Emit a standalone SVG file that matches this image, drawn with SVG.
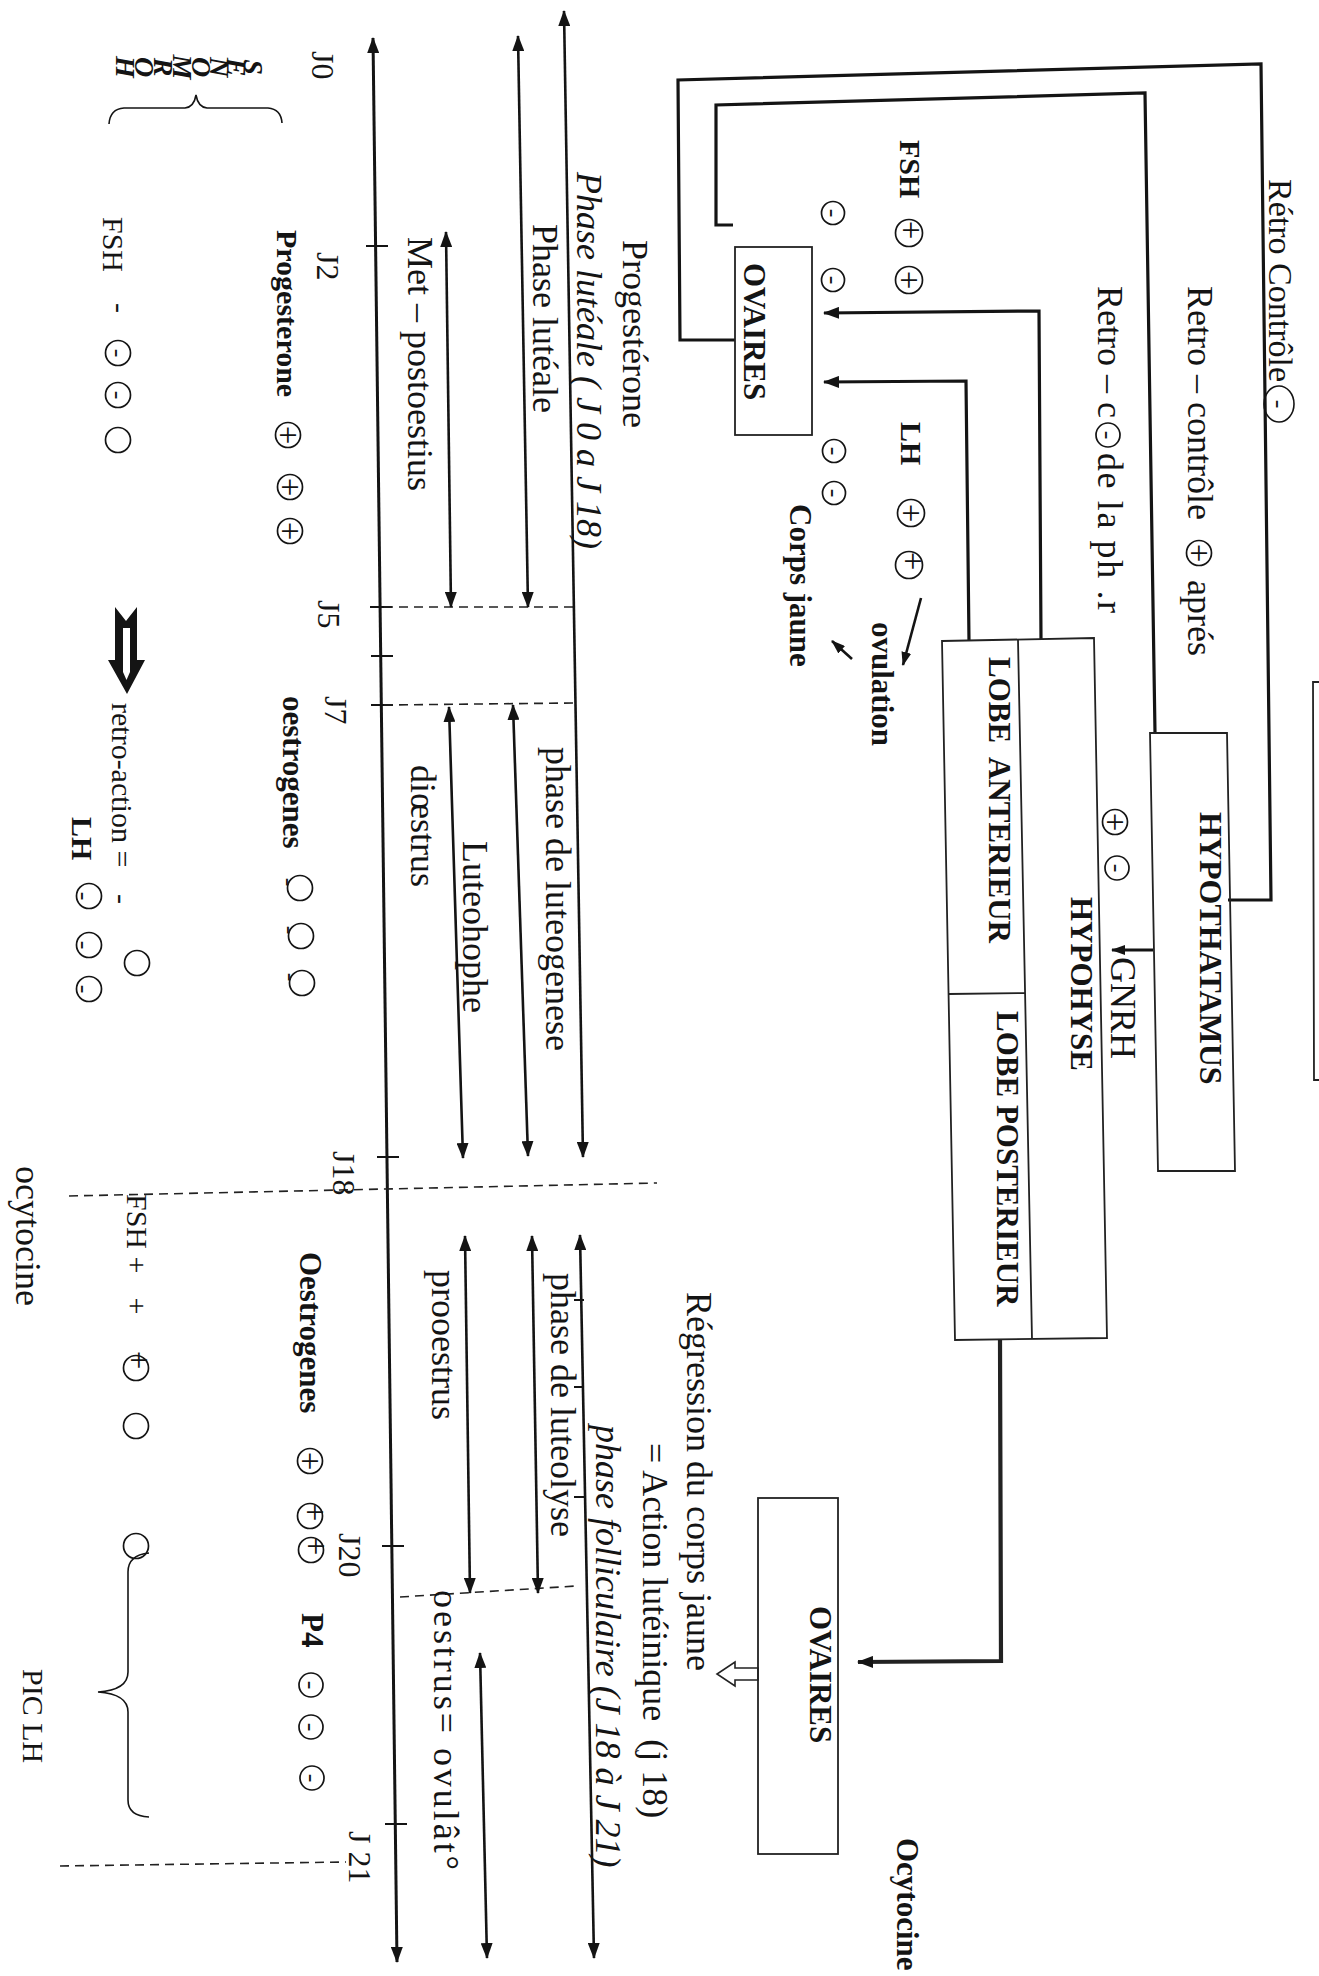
<svg xmlns="http://www.w3.org/2000/svg" width="1319" height="1976" viewBox="0 0 1319 1976">
<defs>
<style>
.t{font-family:"Liberation Serif","Times New Roman",serif;font-size:36px;fill:#141414}
.b{font-weight:bold}
.i{font-style:italic}
.s28{font-size:28px}
.s30{font-size:30px}
.s31{font-size:31px}
.s32{font-size:32px}
.s34{font-size:34px}
.mid{text-anchor:middle}
.sg{font-family:"Liberation Serif","Times New Roman",serif;font-size:26px;fill:#141414;text-anchor:middle;dominant-baseline:central}
.pl{font-size:33px}
.cir{fill:none;stroke:#141414;stroke-width:1.7}
.ln{stroke:#141414;stroke-width:3.2;fill:none}
.thick{stroke:#222;stroke-width:4.2;fill:none}
.ar{stroke:#141414;stroke-width:2.6;fill:none}
.box{fill:none;stroke:#222;stroke-width:1.8}
.dash{stroke:#222;stroke-width:1.6;stroke-dasharray:9 6;fill:none}
.tick{stroke:#141414;stroke-width:2;fill:none}
</style>
<marker id="ah" viewBox="0 0 16 12" refX="15" refY="6" markerWidth="16" markerHeight="12" markerUnits="userSpaceOnUse" orient="auto-start-reverse"><path d="M0,0 L16,6 L0,12 z" fill="#141414"/></marker>
<marker id="ahs" viewBox="0 0 14 10" refX="13" refY="5" markerWidth="14" markerHeight="10" markerUnits="userSpaceOnUse" orient="auto-start-reverse"><path d="M0,0 L14,5 L0,10 z" fill="#141414"/></marker>
</defs>
<rect x="0" y="0" width="1319" height="1976" fill="#fff"/>

<!-- connectors -->
<g id="connectors">
  <path class="ln" d="M1228,900 L1271,900 L1261,64 L678,80 L680,340 L735,340"/>
  <path class="ln" d="M1155,733 L1145,93 L716,105 L716,225 L733,225"/>
  <path class="ln" d="M1041,640 L1039,311 L824,313" marker-end="url(#ah)"/>
  <path class="ln" d="M969,641 L966,381 L824,382" marker-end="url(#ah)"/>
  <path class="ln" d="M1153,950 L1112,950" marker-end="url(#ahs)"/>
  <path class="thick" d="M1000,1340 L1001,1661 L858,1662" marker-end="url(#ah)"/>
  <path class="ar" d="M921,598 L903,665" marker-end="url(#ahs)"/>
  <path class="ar" d="M852,659 L832,641" marker-end="url(#ahs)"/>
  <polygon points="758,1668 735,1668 735,1662 717,1674 735,1686 735,1680 758,1680" fill="#fff" stroke="#222" stroke-width="1.6"/>
</g>

<!-- nodes -->
<g id="hypothalamus">
  <polygon class="box" points="1150,733 1227,733 1235,1171 1158,1171"/>
  <text class="t b s32" transform="translate(1200,812) rotate(90)">HYPOTHATAMUS</text>
</g>
<g id="hypophyse">
  <polygon class="box" points="942,641 1094,638 1107,1338 955,1340"/>
  <path class="box" d="M1018,640 L1032,1339 M949,994 L1025,993"/>
  <text class="t b s31" transform="translate(1071,897) rotate(90)">HYPOHYSE</text>
  <text class="t b s31" transform="translate(989,657) rotate(90)">LOBE&#160; ANTERIEUR</text>
  <text class="t b s31" transform="translate(997,1011) rotate(90)">LOBE POSTERIEUR</text>
  <g transform="translate(1115,822)"><circle class="cir" r="12.5"/><text class="sg pl" transform="rotate(90)">+</text></g>
  <g transform="translate(1117,868)"><circle class="cir" r="12"/><text class="sg" transform="rotate(90)">-</text></g>
  <text class="t" transform="translate(1111,957) rotate(90)">GNRH</text>
</g>
<g id="ovaires-1">
  <rect class="box" x="735" y="247" width="77" height="188"/>
  <text class="t b s31" transform="translate(744,263) rotate(90)">OVAIRES</text>
</g>
<g id="ovaires-2">
  <rect class="box" x="758" y="1498" width="80" height="356"/>
  <text class="t b s31" transform="translate(810,1606) rotate(90)">OVAIRES</text>
</g>
<g id="edge-box">
  <path class="box" d="M1340,682 L1313,682 L1314,1080 L1340,1080"/>
</g>

<!-- feedback labels -->
<g id="labels-top">
  <text class="t s34" transform="translate(1269,179) rotate(90)">Rétro Contrôle</text>
  <ellipse cx="1279" cy="404" rx="15" ry="18" fill="none" stroke="#141414" stroke-width="1.6"/>
  <text class="sg" transform="translate(1279,404) rotate(90)">-</text>
  <text class="t" transform="translate(1188,286) rotate(90)">Retro – contrôle</text>
  <g transform="translate(1199,553)"><circle class="cir" r="12.5"/><text class="sg pl" transform="rotate(90)">+</text></g>
  <text class="t" transform="translate(1188,580) rotate(90)">aprés</text>
  <text class="t" transform="translate(1098,286) rotate(90)">Retro – c</text>
  <g transform="translate(1108,435)"><circle class="cir" r="12"/><text class="sg" transform="rotate(90)">-</text></g>
  <text class="t" transform="translate(1098,453) rotate(90)" textLength="160" lengthAdjust="spacing">de la ph .r</text>
  <text class="t b s30" transform="translate(900,140) rotate(90)">FSH</text>
  <g transform="translate(909,233)"><circle class="cir" r="13.5"/><text class="sg pl" transform="translate(2,-3) rotate(90)">+</text></g>
  <g transform="translate(909,280)"><circle class="cir" r="13.5"/><text class="sg pl" transform="rotate(90)">+</text></g>
  <g transform="translate(833,213)"><circle class="cir" r="11.5"/><text class="sg" transform="rotate(90)">-</text></g>
  <g transform="translate(833,280)"><circle class="cir" r="11.5"/><text class="sg" transform="rotate(90)">-</text></g>
  <text class="t b s30" transform="translate(901,422) rotate(90)">LH</text>
  <g transform="translate(911,513)"><circle class="cir" r="13.5"/><text class="sg pl" transform="rotate(90)">+</text></g>
  <g transform="translate(909,565)"><circle class="cir" r="13.5"/><text class="sg pl" transform="translate(4,-4) rotate(90)">+</text></g>
  <g transform="translate(834,451)"><circle class="cir" r="11.5"/><text class="sg" transform="rotate(90)">-</text></g>
  <g transform="translate(834,493)"><circle class="cir" r="11.5"/><text class="sg" transform="rotate(90)">-</text></g>
  <text class="t b s31" transform="translate(790,504) rotate(90)">Corps jaune</text>
  <text class="t b s31" transform="translate(872,622) rotate(90)">ovulation</text>
  <text class="t b s31" transform="translate(897,1838) rotate(90)">Ocytocine</text>
  <text class="t" transform="translate(687,1292) rotate(90)">Régression du corps jaune</text>
  <text class="t" transform="translate(643,1443) rotate(90)">= Action lutéinique&#160; (j 18)</text>
  <text class="t i" transform="translate(596,1425) rotate(90)">phase folliculaire (J 18 à J 21)</text>
</g>

<!-- timeline -->
<g id="timeline">
  <path class="ar" style="stroke-width:3" d="M373,38 L397,1962" marker-start="url(#ah)" marker-end="url(#ah)"/>
  <path class="tick" d="M366,246 L388,246 M370,607 L392,607 M371,656 L393,656 M371,705 L393,705 M377,1157 L399,1157 M382,1546 L404,1546 M385,1824 L407,1824"/>
  <path class="dash" d="M384,607 L574,607 M384,705 L574,703 M69,1196 L657,1183 M400,1597 L576,1586 M60,1866 L346,1862"/>
  <path class="ar" d="M446,232 L451,607" marker-start="url(#ah)" marker-end="url(#ah)"/>
  <path class="ar" d="M518,36 L528,607" marker-start="url(#ah)" marker-end="url(#ah)"/>
  <path class="ar" d="M564,11 L583,1157" marker-start="url(#ah)" marker-end="url(#ah)"/>
  <path class="ar" d="M449,707 L463,1158" marker-start="url(#ah)" marker-end="url(#ah)"/>
  <path class="ar" d="M513,705 L528,1156" marker-start="url(#ah)" marker-end="url(#ah)"/>
  <path class="ar" d="M465,1236 L470,1593" marker-start="url(#ah)" marker-end="url(#ah)"/>
  <path class="ar" d="M532,1236 L538,1593" marker-start="url(#ah)" marker-end="url(#ah)"/>
  <path class="ar" d="M580,1235 L594,1958" marker-start="url(#ah)" marker-end="url(#ah)"/>
  <path class="ar" d="M480,1653 L487,1958" marker-start="url(#ah)" marker-end="url(#ah)"/>
  <path class="tick" d="M574,1300 L584,1300 M574,1387 L584,1387 M574,1497 L584,1497"/>

  <text class="t s32" transform="translate(312,51) rotate(90)">J0</text>
  <text class="t s32" transform="translate(317,252) rotate(90)">J2</text>
  <text class="t s32" transform="translate(318,600) rotate(90)">J5</text>
  <text class="t s32" transform="translate(325,696) rotate(90)">J7</text>
  <text class="t s32" transform="translate(333,1151) rotate(90)">J18</text>
  <text class="t s32" transform="translate(339,1533) rotate(90)">J20</text>
  <text class="t s32" transform="translate(349,1831) rotate(90)">J 21</text>

  <text class="t" transform="translate(408,237) rotate(90)">Met – postoestius</text>
  <text class="t" transform="translate(533,224) rotate(90)">Phase lutéale</text>
  <text class="t i" transform="translate(577,172) rotate(90)">Phase lutéale ( J 0 a J 18)</text>
  <text class="t" transform="translate(623,240) rotate(90)">Progestérone</text>
  <text class="t" transform="translate(411,765) rotate(90)">diœstrus</text>
  <text class="t" transform="translate(463,841) rotate(90)">Luteohophe</text>
  <text class="t" transform="translate(546,747) rotate(90)">phase de luteogenese</text>
  <text class="t" transform="translate(432,1270) rotate(90)">prooestrus</text>
  <text class="t" transform="translate(551,1273) rotate(90)">phase de luteolyse</text>
  <text class="t" transform="translate(434,1590) rotate(90)" textLength="280" lengthAdjust="spacing">oestrus= ovulât°</text>
</g>

<!-- hormones column -->
<g id="hormones">
  <text class="t b i s28 mid" transform="translate(116,67) rotate(90)">H</text>
  <text class="t b i s28 mid" transform="translate(135,67) rotate(90)">O</text>
  <text class="t b i s28 mid" transform="translate(154,67) rotate(90)">R</text>
  <text class="t b i s28 mid" transform="translate(173,67) rotate(90)">M</text>
  <text class="t b i s28 mid" transform="translate(192,67) rotate(90)">O</text>
  <text class="t b i s28 mid" transform="translate(210,67) rotate(90)">N</text>
  <text class="t b i s28 mid" transform="translate(227,67) rotate(90)">E</text>
  <text class="t b i s28 mid" transform="translate(244,67) rotate(90)">S</text>
  <path d="M109,124 Q110,109 124,108 L185,108 Q194,107 196,95 Q198,107 207,108 L268,108 Q281,109 282,123" fill="none" stroke="#141414" stroke-width="1.6"/>

  <text class="t s30" transform="translate(103,217) rotate(90)">FSH</text>
  <text class="t s30 mid" transform="translate(110,308) rotate(90)">-</text>
  <g transform="translate(118,353)"><circle class="cir" r="12.5"/><text class="sg" transform="rotate(90)">-</text></g>
  <g transform="translate(118,395)"><circle class="cir" r="12.5"/><text class="sg" transform="rotate(90)">-</text></g>
  <circle class="cir" cx="118" cy="440" r="12.5"/>

  <text class="t b s30" transform="translate(277,230) rotate(90)">Progesterone</text>
  <g transform="translate(288,435)"><circle class="cir" r="12.5"/><text class="sg pl" transform="rotate(90)">+</text></g>
  <g transform="translate(290,487)"><circle class="cir" r="12.5"/><text class="sg pl" transform="rotate(90)">+</text></g>
  <g transform="translate(290,531)"><circle class="cir" r="12.5"/><text class="sg pl" transform="rotate(90)">+</text></g>

  <polygon points="115,607 126,621 137,607 137,660 145,660 127,694 108,660 115,660" fill="#141414"/>
  <polygon points="123,628 130,628 130,672 126.5,680 123,672" fill="#fff"/>

  <text class="t b s31" transform="translate(283,696) rotate(90)">oestrogenes</text>
  <g transform="translate(300,888)"><circle class="cir" r="12.5"/><text class="sg" transform="translate(-11,-6) rotate(90)">-</text></g>
  <g transform="translate(301,936)"><circle class="cir" r="12.5"/><text class="sg" transform="translate(-11,-6) rotate(90)">-</text></g>
  <g transform="translate(302,983)"><circle class="cir" r="12.5"/><text class="sg" transform="translate(-11,-6) rotate(90)">-</text></g>

  <text class="t s30" transform="translate(112,703) rotate(90)">retro-action =</text>
  <text class="t s30 mid" transform="translate(112,899) rotate(90)">-</text>
  <text class="t b s30" transform="translate(72,817) rotate(90)">LH</text>
  <g transform="translate(89,896)"><circle class="cir" r="12.5"/><text class="sg" transform="translate(-5,0) rotate(90)">-</text></g>
  <g transform="translate(89,945)"><circle class="cir" r="12.5"/><text class="sg" transform="translate(-5,0) rotate(90)">-</text></g>
  <g transform="translate(89,989)"><circle class="cir" r="12.5"/><text class="sg" transform="translate(-5,0) rotate(90)">-</text></g>
  <circle class="cir" cx="137" cy="963" r="12.5"/>

  <text class="t s30" transform="translate(127,1194) rotate(90)">FSH +</text>
  <text class="t s30 mid" transform="translate(127,1306) rotate(90)">+</text>
  <g transform="translate(136,1368)"><circle class="cir" r="12.5"/><text class="sg pl" transform="translate(3,-8) rotate(90)">+</text></g>
  <circle class="cir" cx="136" cy="1426" r="12.5"/>
  <circle class="cir" cx="136" cy="1546" r="12.5"/>
  <text class="t" transform="translate(16,1166) rotate(90)">ocytocine</text>

  <text class="t b s31" transform="translate(300,1252) rotate(90)">Oestrogenes</text>
  <g transform="translate(310,1461)"><circle class="cir" r="12.5"/><text class="sg pl" transform="rotate(90)">+</text></g>
  <g transform="translate(310,1516)"><circle class="cir" r="12.5"/><text class="sg pl" transform="translate(5,-4) rotate(90)">+</text></g>
  <g transform="translate(311,1550)"><circle class="cir" r="12.5"/><text class="sg pl" transform="translate(5,-4) rotate(90)">+</text></g>
  <text class="t b s31" transform="translate(302,1613) rotate(90)">P4</text>
  <g transform="translate(311,1685)"><circle class="cir" r="12"/><text class="sg" transform="rotate(90)">-</text></g>
  <g transform="translate(311,1727)"><circle class="cir" r="12"/><text class="sg" transform="rotate(90)">-</text></g>
  <g transform="translate(312,1778)"><circle class="cir" r="12"/><text class="sg" transform="rotate(90)">-</text></g>

  <path d="M149,1553 Q128,1555 128,1572 L128,1672 Q128,1690 98,1692 Q128,1694 128,1712 L128,1800 Q128,1816 149,1817" fill="none" stroke="#141414" stroke-width="1.6"/>
  <text class="t s30" transform="translate(23,1669) rotate(90)">PIC LH</text>
</g>
</svg>
